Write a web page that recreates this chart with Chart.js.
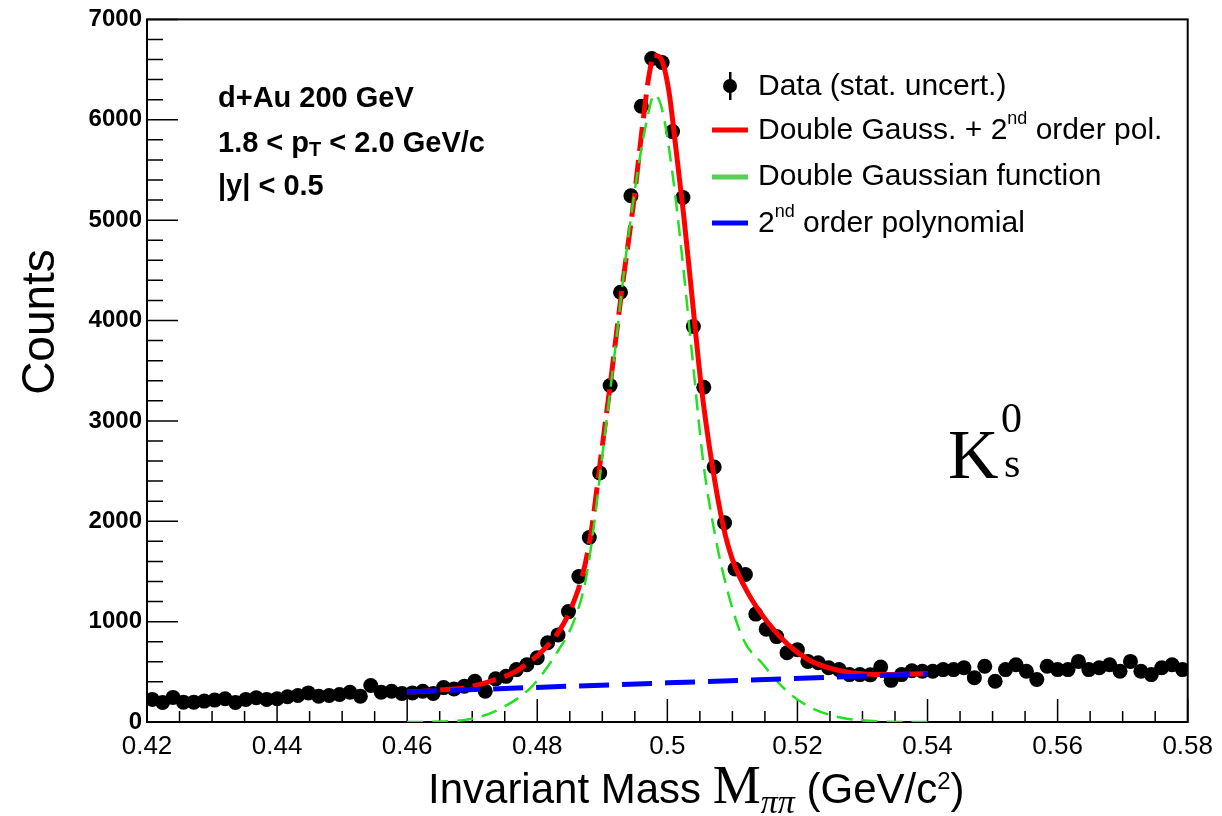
<!DOCTYPE html>
<html>
<head>
<meta charset="utf-8">
<script src="https://cdn.jsdelivr.net/npm/chart.js@4.4.1/dist/chart.umd.min.js"></script>
<style>
  html, body { margin: 0; padding: 0; background: #fff; }
  #wrap { width: 1222px; height: 816px; position: relative; }
</style>
</head>
<body>
<div id="wrap"><canvas id="massChart"></canvas></div>
<script>
// histogram binning: 100 bins from 0.42 to 0.58 GeV/c^2
const massMin = 0.42;
const massMax = 0.58;
const binWidth = 0.0016;

// counts per bin
const counts = [
    225, 195, 245, 198, 198, 208, 218, 231, 195, 225,
    241, 225, 231, 251, 264, 290, 257, 264, 274, 297,
    257, 363, 297, 307, 284, 290, 307, 284, 343, 330,
    357, 406, 307, 430, 455, 522, 571, 640, 789, 868,
    1100, 1450, 1838, 2482, 3353, 4282, 5243, 6135, 6610, 6570,
    5882, 5226, 3940, 3335, 2541, 1985, 1525, 1470, 1075, 925,
    851, 690, 720, 604, 590, 541, 522, 472, 472, 470,
    548, 415, 472, 510, 505, 505, 522, 522, 540, 442,
    555, 406, 522, 571, 505, 423, 555, 522, 522, 604,
    522, 541, 571, 505, 604, 505, 472, 541, 571, 522
];

// double gauss + pol2 fit (red)
const fitMass = [0.460, 0.4616, 0.465, 0.469, 0.4736, 0.4767, 0.4807, 0.4833, 0.4853, 0.4871,
    0.4883, 0.4897, 0.4912, 0.4930, 0.4948, 0.4963, 0.4972, 0.4980, 0.4989, 0.5002,
    0.5012, 0.5025, 0.5037, 0.5052, 0.5068, 0.5086, 0.5100, 0.5124, 0.5155, 0.5186,
    0.5217, 0.5247, 0.5282, 0.5334, 0.5400];
const fitTotal = [300, 302, 318, 343, 423, 505, 703, 900, 1148, 1500,
    1900, 2600, 3353, 4300, 5170, 6006, 6450, 6640, 6620, 6300,
    5780, 5056, 4300, 3353, 2600, 1950, 1620, 1284, 987, 769,
    620, 541, 492, 472, 482];

// double gaussian (green)
const signalMass = [0.460, 0.465, 0.4695, 0.4741, 0.4792, 0.4833, 0.4856, 0.4874, 0.4886, 0.4899,
    0.4920, 0.4937, 0.4955, 0.4968, 0.4980, 0.4992, 0.5007, 0.5022, 0.5037, 0.5055,
    0.5074, 0.5094, 0.5117, 0.5145, 0.5181, 0.5217, 0.5258, 0.5293, 0.5340, 0.5400];
const signal = [0, 4, 27, 125, 356, 720, 1000, 1400, 1900, 2600,
    3730, 4680, 5510, 5980, 6250, 6100, 5510, 4680, 3730, 2600,
    1840, 1270, 820, 590, 324, 155, 56, 20, 3, 0];

// 2nd order polynomial (blue)
const bkgMass = [0.46, 0.50, 0.54];
const bkg = [300, 390, 480];

const xTickValues = [0.42, 0.44, 0.46, 0.48, 0.5, 0.52, 0.54, 0.56, 0.58];
const xTickLabels = ['0.42', '0.44', '0.46', '0.48', '0.5', '0.52', '0.54', '0.56', '0.58'];
const yTickValues = [0, 1000, 2000, 3000, 4000, 5000, 6000, 7000];

const sans = '"Liberation Sans", Arial, Helvetica, sans-serif';
const serif = '"Liberation Serif", "Times New Roman", serif';

function pairUp(xs, ys) {
    return xs.map((x, i) => ({ x: x, y: ys[i] }));
}

const histPoints = counts.map((c, i) => ({ x: massMin + binWidth * (i + 0.5), y: c }));

// draws a run of [text, font, dy] pieces from left to right
function drawRuns(ctx, x, y, runs) {
    runs.forEach(([txt, font, dy]) => {
        ctx.font = font;
        ctx.fillText(txt, x, y + (dy || 0));
        x += ctx.measureText(txt).width;
    });
    return x;
}

// ROOT-like frame with inward ticks
const frameTicks = {
    id: 'frameTicks',
    beforeDatasetsDraw(chart) {
        const { ctx, chartArea: a, scales: { x, y } } = chart;
        ctx.save();
        ctx.strokeStyle = '#000';
        ctx.lineWidth = 1.5;
        ctx.beginPath();
        for (let k = 0; k <= 32; k++) {
            const px = x.getPixelForValue(massMin + k * 0.005);
            const len = k % 4 === 0 ? 23 : 11;
            ctx.moveTo(px, a.bottom);
            ctx.lineTo(px, a.bottom - len);
        }
        for (let k = 0; k <= 35; k++) {
            const py = y.getPixelForValue(k * 200);
            const len = k % 5 === 0 ? 31 : 16;
            ctx.moveTo(a.left, py);
            ctx.lineTo(a.left + len, py);
        }
        ctx.stroke();
        ctx.lineWidth = 2;
        ctx.strokeRect(a.left, a.top, a.right - a.left, a.bottom - a.top);
        ctx.restore();
    },
    afterDraw(chart) {
        const { ctx } = chart;
        ctx.save();
        ctx.fillStyle = '#000';
        ctx.textBaseline = 'alphabetic';

        // y title
        ctx.save();
        ctx.translate(54, 322);
        ctx.rotate(-Math.PI / 2);
        ctx.textAlign = 'center';
        ctx.font = '46px ' + sans;
        ctx.fillText('Counts', 0, 0);
        ctx.restore();

        // x title
        ctx.textAlign = 'left';
        drawRuns(ctx, 428, 803, [
            ['Invariant Mass ', '42px ' + sans],
            ['M', '54px ' + serif],
            ['\u03c0\u03c0', 'italic 34px ' + serif, 10],
            [' (GeV/c', '42px ' + sans],
            ['2', '24px ' + sans, -14],
            [')', '42px ' + sans]
        ]);

        // collision system text
        const bold = 'bold 29px ' + sans;
        drawRuns(ctx, 218, 107, [['d+Au 200 GeV', bold]]);
        drawRuns(ctx, 218, 152, [
            ['1.8 < p', bold],
            ['T', 'bold 20px ' + sans, 4],
            [' < 2.0 GeV/c', bold]
        ]);
        drawRuns(ctx, 218, 195, [['|y| < 0.5', bold]]);

        // K0s label
        ctx.font = '70px ' + serif;
        ctx.fillText('K', 948, 478);
        ctx.font = '42px ' + serif;
        ctx.fillText('0', 1001, 432);
        ctx.fillText('s', 1004, 477);

        // legend
        ctx.fillStyle = '#000';
        ctx.beginPath();
        ctx.arc(730, 86, 7, 0, Math.PI * 2);
        ctx.fill();
        ctx.fillRect(729, 72, 2.5, 28);
        const legendLines = [['#ff0000', 130], ['#55d055', 177], ['#0000ff', 223]];
        ctx.lineWidth = 5;
        legendLines.forEach(([col, ly]) => {
            ctx.strokeStyle = col;
            ctx.beginPath();
            ctx.moveTo(712, ly);
            ctx.lineTo(748, ly);
            ctx.stroke();
        });
        const lf = '30px ' + sans;
        const sup = '18px ' + sans;
        ctx.textBaseline = 'middle';
        drawRuns(ctx, 758, 87, [['Data (stat. uncert.)', lf]]);
        drawRuns(ctx, 758, 131, [
            ['Double Gauss. + 2', lf],
            ['nd', sup, -12],
            [' order pol.', lf]
        ]);
        drawRuns(ctx, 758, 177, [['Double Gaussian function', lf]]);
        drawRuns(ctx, 758, 224, [
            ['2', lf],
            ['nd', sup, -12],
            [' order polynomial', lf]
        ]);
        ctx.restore();
    }
};

const peakMass = 0.4985;

new Chart(document.getElementById('massChart'), {
    type: 'line',
    data: {
        datasets: [
            {
                label: 'Data (stat. uncert.)',
                data: histPoints,
                showLine: false,
                pointRadius: 7.5,
                pointBackgroundColor: '#000',
                pointBorderWidth: 0,
                order: 4
            },
            {
                label: 'Double Gauss. + 2nd order pol.',
                data: pairUp(fitMass, fitTotal),
                borderColor: '#ff0000',
                borderWidth: 5,
                pointRadius: 0,
                cubicInterpolationMode: 'monotone',
                segment: {
                    borderDash: ctx => ctx.p1.parsed.x <= peakMass ? [24, 9] : []
                },
                order: 3
            },
            {
                label: 'Double Gaussian function',
                data: pairUp(signalMass, signal),
                borderColor: '#22e022',
                borderWidth: 2.5,
                borderDash: [16, 9],
                pointRadius: 0,
                cubicInterpolationMode: 'monotone',
                order: 2
            },
            {
                label: '2nd order polynomial',
                data: pairUp(bkgMass, bkg),
                borderColor: '#0000ff',
                borderWidth: 5,
                borderDash: [30, 13],
                pointRadius: 0,
                order: 1
            }
        ]
    },
    options: {
        responsive: true,
        maintainAspectRatio: false,
        animation: false,
        layout: { padding: { top: 16, right: 32, left: 0, bottom: 0 } },
        plugins: {
            legend: { display: false },
            tooltip: { enabled: false }
        },
        scales: {
            x: {
                type: 'linear',
                min: massMin,
                max: massMax,
                afterBuildTicks: scale => {
                    scale.ticks = xTickValues.map(v => ({ value: v }));
                },
                afterFit: scale => { scale.height = 94; },
                grid: { display: false, drawTicks: false },
                border: { display: false },
                ticks: {
                    autoSkip: false,
                    maxRotation: 0,
                    padding: 9,
                    color: '#000',
                    font: { family: sans, size: 26 },
                    callback: (v, i) => xTickLabels[i]
                }
            },
            y: {
                min: 0,
                max: 7000,
                afterBuildTicks: scale => {
                    scale.ticks = yTickValues.map(v => ({ value: v }));
                },
                afterFit: scale => { scale.width = 147; },
                grid: { display: false, drawTicks: false },
                border: { display: false },
                ticks: {
                    padding: 5,
                    color: '#000',
                    font: { family: sans, size: 24, weight: 'bold' },
                    callback: v => String(v)
                }
            }
        }
    },
    plugins: [frameTicks]
});
</script>
</body>
</html>
